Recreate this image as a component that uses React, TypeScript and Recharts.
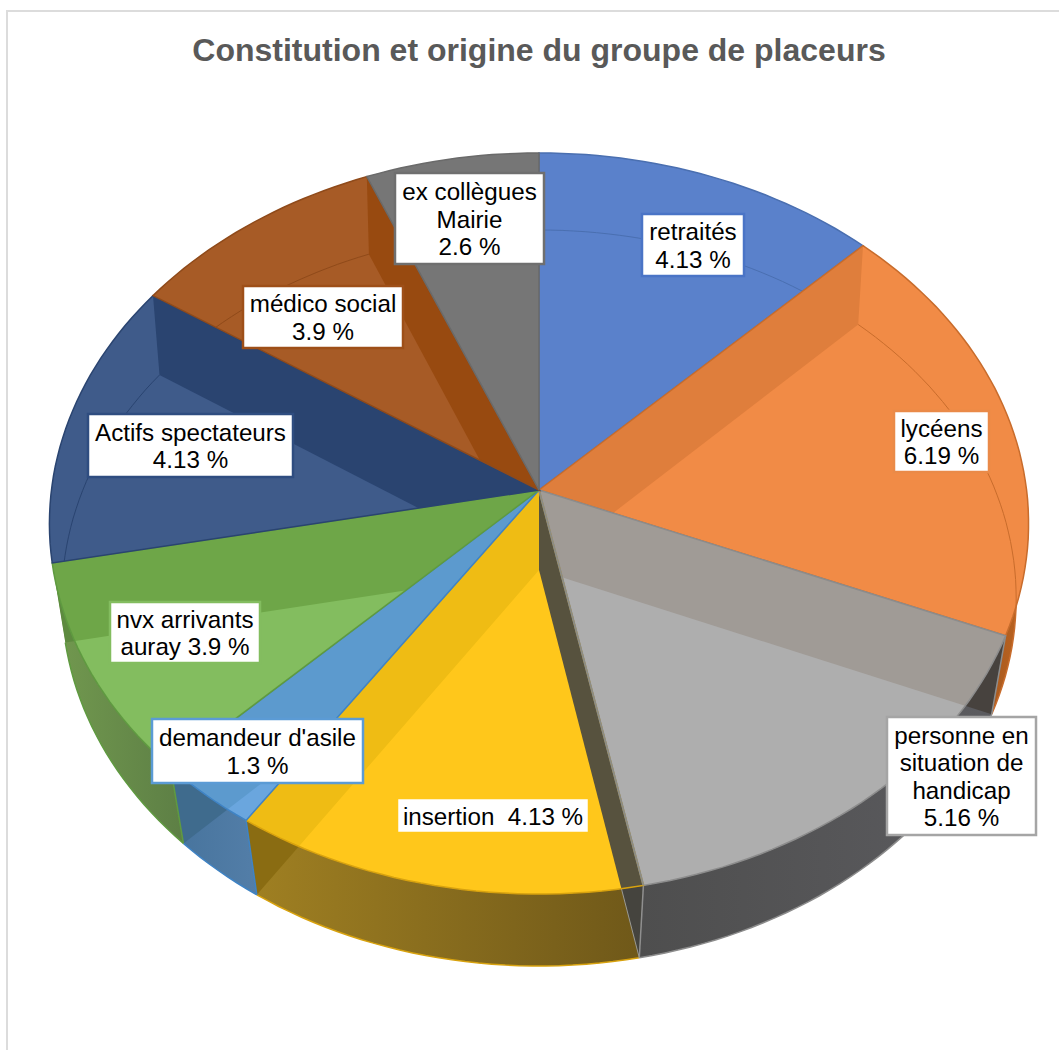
import { Pie, PieChart } from 'recharts';

const categories = [
  'retraités',
  'lycéens',
  'personne en situation de handicap',
  'insertion',
  "demandeur d'asile",
  'nvx arrivants auray',
  'Actifs spectateurs',
  'médico social',
  'ex collègues Mairie',
];
// number of people per group, this is what sets the slice angles
const people = [4, 6, 5, 4, 1, 3, 4, 3, 2];
// the labels as printed on the chart
const labelLines = [
  ['retraités', '4.13 %'],
  ['lycéens', '6.19 %'],
  ['personne en', 'situation de', 'handicap', '5.16 %'],
  ['insertion  4.13 %'],
  ["demandeur d'asile", '1.3 %'],
  ['nvx arrivants', 'auray 3.9 %'],
  ['Actifs spectateurs', '4.13 %'],
  ['médico social', '3.9 %'],
  ['ex collègues', 'Mairie', '2.6 %'],
];

const faceColors = ['#5a81cb', '#f18b46', '#aeaeae', '#ffc71b', '#6aa6de', '#83bd5f', '#3f5b8a', '#a75b26', '#767676'];
const edgeColors = ['#4a6fb0', '#c86c2c', '#8c8c8c', '#d8a20e', '#3f83c4', '#5f9a40', '#2a4470', '#8f4a1a', '#6a6a6a'];
const startBands = ['#5a81cb', '#df7e3c', '#a09b96', '#57523e', '#6aa6de', '#83bd5f', '#3f5b8a', '#a75b26', '#767676'];
const endBands = ['#5a81cb', '#f18b46', '#aeaeae', '#efbc14', '#5c9ace', '#6ea648', '#2a4470', '#984a10', '#767676'];
const wallLeft = ['#555', '#c0651f', '#5c5c60', '#a08022', '#46739c', '#72994f', '#333', '#333', '#333'];
const wallRight = ['#555', '#a85a20', '#4e4e4e', '#6f5819', '#537ea8', '#5d7f45', '#333', '#333', '#333'];
const wallStartBands = ['none', 'none', '#47423e', '#45443e', 'none', 'none', 'none', 'none', 'none'];
const wallEndBands = ['none', 'none', 'none', '#8a6c12', '#3f6b8d', '#5d8a3f', 'none', 'none', 'none'];
const labelBorders = ['#4a74c6', '#ea8a48', '#a5a5a5', '#ffc71b', '#5b9bd5', '#83bd5f', '#2f4d80', '#9e4f18', '#6f6f6f'];

// where the data label boxes sit
const labelBoxes = [
  { x: 642, y: 214, w: 102, h: 62 },
  { x: 894, y: 411, w: 95, h: 61 },
  { x: 887, y: 717, w: 149, h: 118 },
  { x: 397, y: 798, w: 192, h: 35 },
  { x: 152, y: 719, w: 211, h: 64 },
  { x: 110, y: 602, w: 150, h: 61 },
  { x: 88, y: 414, w: 205, h: 63 },
  { x: 243, y: 286, w: 160, h: 62 },
  { x: 395, y: 173, w: 149, h: 91 },
];

const chartData = categories.map((name, i) => ({ name, value: people[i] }));

// perspective of the tilted disc: top and bottom plane of the pie
const topPlane = { drop: 0, sx: 0.993, sy: 0.7485, persp: 0.0904 };
const bottomPlane = { drop: 80, sx: 0.969, sy: 0.7452, persp: 0.0761 };

type Plane = typeof topPlane;

const project = (p: any, deg: number, plane: Plane) => {
  const t = (deg * Math.PI) / 180;
  const u = Math.sin(t);
  const v = Math.cos(t);
  const d = 1 + plane.persp * v;
  return [p.cx + (p.outerRadius * plane.sx * u) / d, p.cy + plane.drop - (p.outerRadius * plane.sy * v) / d];
};

const arcPoints = (p: any, from: number, to: number, plane: Plane) => {
  const pts = [];
  const n = Math.max(2, Math.ceil(Math.abs(to - from) / 1.5));
  for (let i = 0; i <= n; i++) pts.push(project(p, from + ((to - from) * i) / n, plane));
  return pts;
};

const toPath = (pts: number[][], close = true) =>
  pts.map((q, i) => `${i ? 'L' : 'M'}${q[0].toFixed(1)} ${q[1].toFixed(1)}`).join(' ') + (close ? ' Z' : '');

// recharts angles run counter clockwise from 3 o'clock, the projection runs clockwise from 12
const sliceAngles = (p: any) => [90 - p.startAngle, 90 - p.endAngle];

const bandPoints = (p: any, deg: number) => [
  [p.cx, p.cy],
  project(p, deg, topPlane),
  project(p, deg, bottomPlane),
  [p.cx, p.cy + bottomPlane.drop],
];

const WallShape = (p: any) => {
  const i = categories.indexOf(p.name);
  const [a1, a2] = sliceAngles(p);
  const mid = (a1 + a2) / 2;
  if (mid < 60 || mid > 270) return <g />;
  const from = Math.max(a1, 90);
  const to = Math.min(a2, 270);
  const wall = toPath([...arcPoints(p, from, to, topPlane), ...arcPoints(p, to, from, bottomPlane)]);
  return (
    <g>
      <defs>
        <linearGradient id={`wall-grad-${i}`} x1="0" x2="1" y1="0" y2="0">
          <stop offset="0" stopColor={to <= 180 ? wallRight[i] : wallLeft[i]} />
          <stop offset="1" stopColor={to <= 180 ? wallLeft[i] : wallRight[i]} />
        </linearGradient>
        <clipPath id={`wall-clip-${i}`}>
          <path d={wall} />
        </clipPath>
      </defs>
      <path d={wall} fill={`url(#wall-grad-${i})`} />
      <g clipPath={`url(#wall-clip-${i})`}>
        <path d={toPath(bandPoints(p, a1))} fill={wallStartBands[i]} />
        <path d={toPath(bandPoints(p, a2))} fill={wallEndBands[i]} />
      </g>
      <path d={toPath(arcPoints(p, from, to, bottomPlane), false)} fill="none" stroke={edgeColors[i]} strokeWidth={1.5} />
      {a1 >= 90 && (
        <path d={toPath([project(p, a1, topPlane), project(p, a1, bottomPlane)], false)} stroke={i === 3 ? '#8f8f8f' : edgeColors[i]} strokeWidth={1.5} />
      )}
      {i === 3 && (
        <path d={toPath([[p.cx, p.cy + bottomPlane.drop], project(p, a1, bottomPlane)], false)} stroke="#9a9a94" strokeWidth={1} />
      )}
    </g>
  );
};

const FaceShape = (p: any) => {
  const i = categories.indexOf(p.name);
  const [a1, a2] = sliceAngles(p);
  const face = toPath([[p.cx, p.cy], ...arcPoints(p, a1, a2, topPlane)]);
  return (
    <g>
      <defs>
        <clipPath id={`face-clip-${i}`}>
          <path d={face} />
        </clipPath>
      </defs>
      <path d={face} fill={faceColors[i]} />
      <g clipPath={`url(#face-clip-${i})`}>
        <path d={toPath(bandPoints(p, a1))} fill={startBands[i]} />
        <path d={toPath(bandPoints(p, a2))} fill={endBands[i]} />
        <path d={toPath(arcPoints(p, a1, a2, bottomPlane), false)} fill="none" stroke={edgeColors[i]} strokeWidth={1} />
      </g>
      <path d={face} fill="none" stroke={edgeColors[i]} strokeWidth={1.5} />
      {/* the wall next to the grey slice hides the yellow edge */}
      {i === 3 && (
        <path d={toPath([[p.cx, p.cy], project(p, a1, topPlane)], false)} stroke="#8c8c84" strokeWidth={2} />
      )}
    </g>
  );
};

const DataLabel = (p: any) => {
  const i = categories.indexOf(p.name);
  const box = labelBoxes[i];
  const lines = labelLines[i];
  const step = 27.3;
  const first = box.y + box.h / 2 - ((lines.length - 1) * step) / 2 + 0.5;
  return (
    <g>
      <rect x={box.x} y={box.y} width={box.w} height={box.h} fill="#fff" stroke={labelBorders[i]} strokeWidth={2.5} />
      {lines.map((line, k) => (
        <text
          key={k}
          x={box.x + box.w / 2}
          y={first + k * step}
          textAnchor="middle"
          dominantBaseline="central"
          fontFamily="'Liberation Sans', Arial, sans-serif"
          fontSize={24.2}
          fill="#000"
          style={{ whiteSpace: 'pre' }}
        >
          {line}
        </text>
      ))}
    </g>
  );
};

export default function App() {
  return (
    <div style={{ position: 'absolute', left: 0, top: 0, width: 1059, height: 1050, overflow: 'hidden', background: '#fff' }}>
      <div style={{ position: 'absolute', left: 6, top: 10, width: 1100, height: 1100, border: '2px solid #dcdcdc' }} />
      <div style={{ position: 'absolute', left: 0, top: 0 }}>
        <PieChart width={1059} height={1050} margin={{ top: 0, right: 0, bottom: 0, left: 0 }}>
          <text
            x={539}
            y={50}
            textAnchor="middle"
            dominantBaseline="central"
            fontFamily="'Liberation Sans', Arial, sans-serif"
            fontWeight="bold"
            fontSize={32}
            fill="#595959"
          >
            Constitution et origine du groupe de placeurs
          </text>
          <Pie
            data={chartData}
            dataKey="value"
            nameKey="name"
            cx={539}
            cy={490}
            outerRadius={491}
            startAngle={90}
            endAngle={-270}
            stroke="none"
            shape={WallShape}
            isAnimationActive={false}
          />
          <Pie
            data={chartData}
            dataKey="value"
            nameKey="name"
            cx={539}
            cy={490}
            outerRadius={491}
            startAngle={90}
            endAngle={-270}
            stroke="none"
            shape={FaceShape}
            label={DataLabel}
            labelLine={false}
            isAnimationActive={false}
          />
        </PieChart>
      </div>
    </div>
  );
}
